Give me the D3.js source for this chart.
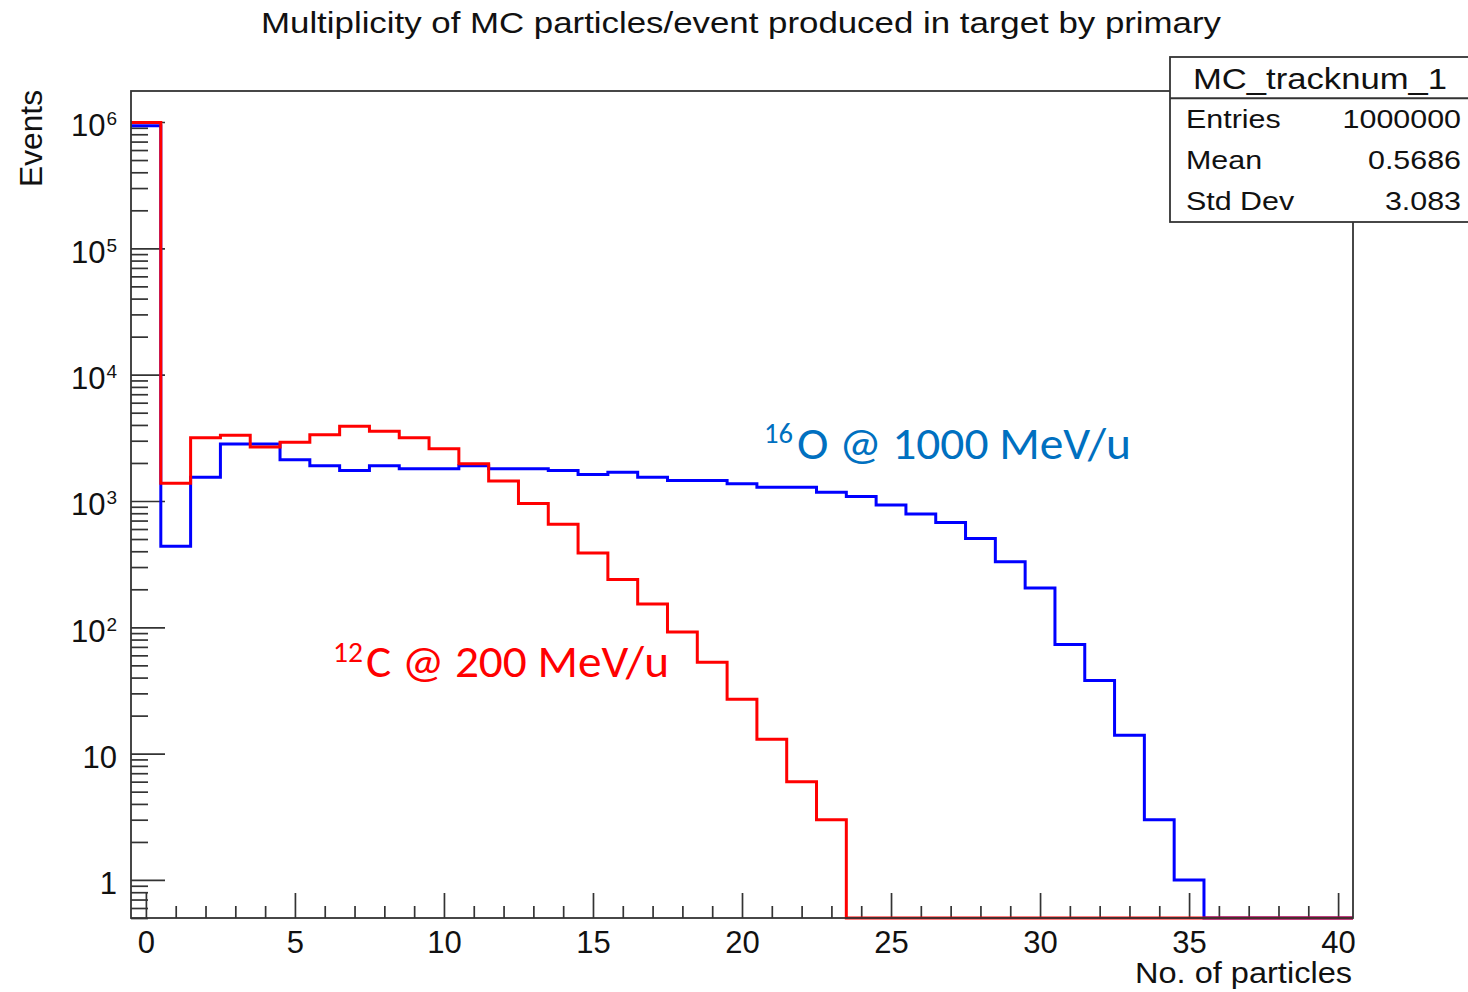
<!DOCTYPE html>
<html>
<head>
<meta charset="utf-8">
<script src="https://cdn.jsdelivr.net/npm/d3@7"></script>
<style>
  html, body { margin: 0; padding: 0; background: #ffffff; }
  svg { display: block; }
</style>
</head>
<body>
<svg id="chart" width="1468" height="992" font-family="Liberation Sans, Arial, Helvetica, sans-serif" fill="#111"></svg>
<script>
// ---------------- data ----------------
const titleText = "Multiplicity of MC particles/event produced in target by primary";
const xAxisTitle = "No. of particles";
const yAxisTitle = "Events";

// bin centres (No. of particles), bin width 1
const bins = d3.range(0, 41);

// 12C @ 200 MeV/u  (red)
const carbonCounts = [990000, 1380, 3160, 3320, 2670, 2920, 3340, 3910, 3570, 3160,
                      2590, 1970, 1440, 955, 655, 388, 239, 153, 92, 53,
                      27, 13, 6, 3, 0, 0, 0, 0, 0, 0,
                      0, 0, 0, 0, 0, 0, 0, 0, 0, 0, 0];

// 16O @ 1000 MeV/u (blue)
const oxygenCounts = [935000, 438, 1545, 2830, 2830, 2120, 1900, 1740, 1900, 1800,
                      1800, 1900, 1800, 1800, 1740, 1620, 1690, 1545, 1450, 1450,
                      1370, 1285, 1285, 1175, 1085, 930, 790, 675, 505, 330,
                      205, 73, 38, 14, 3, 1, 0, 0, 0, 0, 0];

const xMajorTicks = [0, 5, 10, 15, 20, 25, 30, 35, 40];
const yMajorTicks = [1, 10, 1e2, 1e3, 1e4, 1e5, 1e6];
const yTickExponents = [null, null, 2, 3, 4, 5, 6];

const statsTitle = "MC_tracknum_1";
const statLabels = ["Entries", "Mean", "Std Dev"];
const statValues = ["1000000", "0.5686", "3.083"];

const oxygenLabel = { sup: "16", main: "O @ 1000 MeV/u" };
const carbonLabel = { sup: "12", main: "C @ 200 MeV/u" };

// ---------------- layout ----------------
const frame = { left: 131, right: 1353, top: 91, bottom: 918 };
const xDomain = [-0.5, 40.5];
const yDomain = [0.5, 1.76e6];

const svg = d3.select("#chart");
svg.append("rect").attr("width", 1468).attr("height", 992).attr("fill", "#fff");

const x = d3.scaleLinear().domain(xDomain).range([frame.left, frame.right]);
const y = d3.scaleLog().domain(yDomain).range([frame.bottom, frame.top]);

// ---------- axes ----------
const axisColor = "#333";
const textColor = "#111";
const rootFont = "Liberation Sans, Arial, Helvetica, sans-serif";

// minor y ticks
const yMinor = [];
for (let e = -1; e <= 6; e++) {
  for (let k = 2; k <= 9; k++) {
    const v = k * Math.pow(10, e);
    if (v >= yDomain[0] && v <= yDomain[1]) yMinor.push(v);
  }
}
const xMinor = bins.filter(b => b % 5 !== 0);

const gYMinor = svg.append("g").attr("transform", `translate(${frame.left},0)`)
  .call(d3.axisLeft(y).tickValues(yMinor).tickSizeInner(-17).tickSizeOuter(0).tickFormat(""));
const gYMajor = svg.append("g").attr("transform", `translate(${frame.left},0)`)
  .call(d3.axisLeft(y).tickValues(yMajorTicks).tickSizeInner(-34).tickSizeOuter(0).tickPadding(14)
        .tickFormat(d => ""));
const gXMinor = svg.append("g").attr("transform", `translate(0,${frame.bottom})`)
  .call(d3.axisBottom(x).tickValues(xMinor).tickSizeInner(-12).tickSizeOuter(0).tickFormat(""));
const gXMajor = svg.append("g").attr("transform", `translate(0,${frame.bottom})`)
  .call(d3.axisBottom(x).tickValues(xMajorTicks).tickSizeInner(-25).tickSizeOuter(0).tickPadding(13)
        .tickFormat(d3.format("d")));

[gYMinor, gYMajor, gXMinor, gXMajor].forEach(g => {
  g.select(".domain").remove();
  g.selectAll(".tick line").attr("stroke", axisColor).attr("stroke-width", 1.7);
});

gXMajor.selectAll(".tick text")
  .attr("font-family", rootFont)
  .attr("font-size", 31).attr("fill", textColor);

// y labels with superscripts
gYMajor.selectAll(".tick text").each(function (d, i) {
  const t = d3.select(this);
  t.attr("font-family", rootFont)
   .attr("font-size", 31).attr("fill", textColor).attr("dy", "0.45em").text(null);
  const ex = yTickExponents[i];
  if (ex === null) {
    t.append("tspan").text(String(d));
  } else {
    t.append("tspan").text("10");
    t.append("tspan").attr("font-size", 19).attr("dy", -11).attr("dx", 1).text(String(ex));
  }
});

// ---------- histograms ----------
const stepLine = d3.line()
  .x(d => x(d[0]))
  .y(d => y(Math.max(d[1], yDomain[0])))
  .curve(d3.curveStepAfter);

function histPoints(counts) {
  const pts = bins.map((b, i) => [b - 0.5, counts[i]]);
  pts.push([bins[bins.length - 1] + 0.5, counts[counts.length - 1]]);
  return pts;
}

svg.append("path").datum(histPoints(oxygenCounts))
  .attr("d", stepLine).attr("fill", "none").attr("stroke", "#0000ff").attr("stroke-width", 3);
svg.append("path").datum(histPoints(carbonCounts))
  .attr("d", stepLine).attr("fill", "none").attr("stroke", "#ff0000").attr("stroke-width", 3);

// ---------- frame ----------
svg.append("rect")
  .attr("x", frame.left).attr("y", frame.top)
  .attr("width", frame.right - frame.left).attr("height", frame.bottom - frame.top)
  .attr("fill", "none").attr("stroke", axisColor).attr("stroke-width", 1.8);

// ---------- titles ----------
function rootText(sel) {
  return sel.attr("font-family", rootFont).attr("fill", textColor);
}
rootText(svg.append("text")).attr("x", 261).attr("y", 33)
  .attr("font-size", 30).attr("textLength", 960).attr("lengthAdjust", "spacingAndGlyphs")
  .text(titleText);

rootText(svg.append("text")).attr("x", 1135).attr("y", 983)
  .attr("font-size", 29).attr("textLength", 217).attr("lengthAdjust", "spacingAndGlyphs")
  .text(xAxisTitle);

rootText(svg.append("text"))
  .attr("transform", "translate(42,187) rotate(-90)")
  .attr("font-size", 31).attr("textLength", 97).attr("lengthAdjust", "spacingAndGlyphs")
  .text(yAxisTitle);

// ---------- stats box ----------
const box = { x: 1170, y: 57, w: 310, h: 165 };
svg.append("rect").attr("x", box.x).attr("y", box.y).attr("width", box.w).attr("height", box.h)
  .attr("fill", "#fff").attr("stroke", axisColor).attr("stroke-width", 1.8);
const rowH = box.h / 4;
svg.append("line").attr("x1", box.x).attr("x2", box.x + box.w)
  .attr("y1", box.y + rowH).attr("y2", box.y + rowH)
  .attr("stroke", axisColor).attr("stroke-width", 1.8);
rootText(svg.append("text")).attr("x", 1193).attr("y", box.y + rowH * 0.5 + 11)
  .attr("font-size", 30).attr("textLength", 254).attr("lengthAdjust", "spacingAndGlyphs")
  .text(statsTitle);
statLabels.forEach((lab, i) => {
  const cy = box.y + rowH * (i + 1.5) + 9;
  rootText(svg.append("text")).attr("x", 1186).attr("y", cy).attr("font-size", 26)
    .attr("transform", `translate(1186,0) scale(1.17,1) translate(-1186,0)`).text(lab);
  rootText(svg.append("text")).attr("x", 1461).attr("y", cy).attr("font-size", 26).attr("text-anchor", "end")
    .attr("transform", `translate(1461,0) scale(1.17,1) translate(-1461,0)`).text(statValues[i]);
});

// ---------- annotations ----------
const annFont = "Carlito, Calibri, Lato, 'Open Sans', sans-serif";
function annotate(lbl, color, supX, supY, supW, mainX, mainY, mainW) {
  svg.append("text").attr("x", supX).attr("y", supY)
    .attr("font-family", annFont).attr("font-size", 28).attr("fill", color)
    .attr("textLength", supW).attr("lengthAdjust", "spacingAndGlyphs").text(lbl.sup);
  svg.append("text").attr("x", mainX).attr("y", mainY)
    .attr("font-family", annFont).attr("font-size", 46).attr("fill", color)
    .attr("textLength", mainW).attr("lengthAdjust", "spacingAndGlyphs").text(lbl.main);
}
annotate(oxygenLabel, "#0070c0", 764, 443, 29, 797, 459, 334);
annotate(carbonLabel, "#ff0000", 333, 662, 30, 366, 677, 303);
</script>
</body>
</html>
